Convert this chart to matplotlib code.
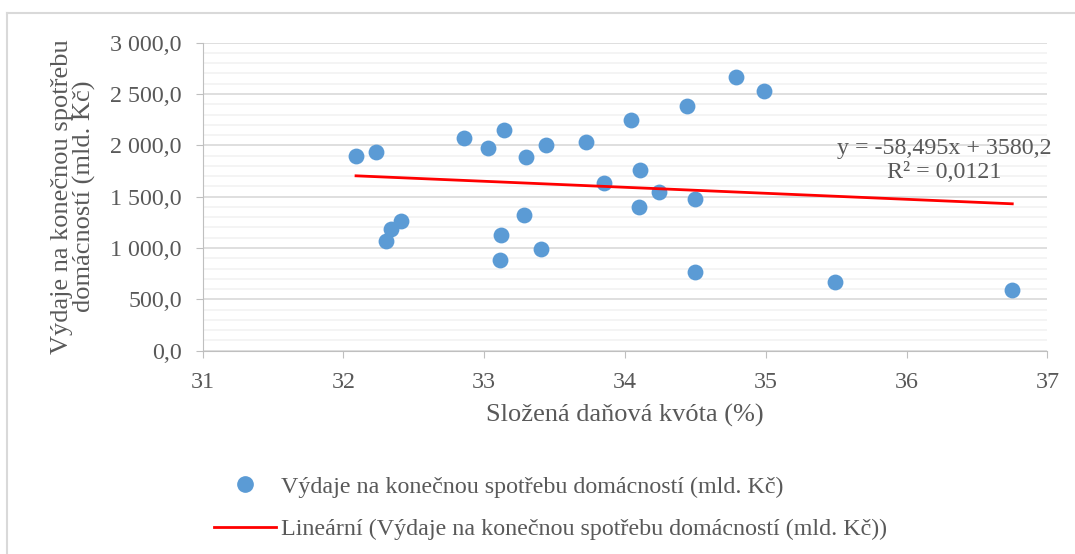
import matplotlib
matplotlib.use("Agg")
import matplotlib.pyplot as plt
from matplotlib.ticker import FuncFormatter, MultipleLocator
from matplotlib.lines import Line2D
import numpy as np

# data
dane_kvota = [32.09, 32.23, 32.30, 32.34, 32.41, 32.86, 33.03, 33.14, 33.11, 33.12,
              33.28, 33.30, 33.40, 33.44, 33.72, 33.85, 34.04, 34.11, 34.10, 34.24,
              34.44, 34.50, 34.50, 34.79, 34.99, 35.49, 36.75]
vydaje = [1896, 1932, 1066, 1185, 1266, 2075, 1974, 2153, 886, 1130,
          1322, 1891, 992, 1999, 2030, 1636, 2244, 1757, 1397, 1546,
          2385, 1480, 764, 2669, 2527, 666, 594]
slope = -58.495
intercept = 3580.2
r2 = 0.0121

serie = "Výdaje na konečnou spotřebu domácností (mld. Kč)"
gray = "#595959"
plt.rcParams['font.family'] = ['Liberation Serif', 'DejaVu Serif']
fs = 17.3

fig = plt.figure(figsize=(10.75, 5.54), dpi=100)
ax = fig.add_axes([0.1884, 0.367, 0.786, 0.556])

#body
ax.scatter(dane_kvota, vydaje, s=130, color="#5B9BD5", zorder=3, linewidths=0)
xt = np.array([min(dane_kvota), max(dane_kvota)])
ax.plot(xt, slope * xt + intercept, color="#FF0000", lw=2, zorder=4)

ax.set_xlim(31, 37)
ax.set_ylim(0, 3000)
ax.yaxis.set_major_locator(MultipleLocator(500))
ax.yaxis.set_minor_locator(MultipleLocator(100))
ax.xaxis.set_major_locator(MultipleLocator(1))

def fmt(v, pos):
    s = "{:,.1f}".format(v).replace(",", " ").replace(".", ",")
    return s
ax.yaxis.set_major_formatter(FuncFormatter(fmt))

ax.grid(axis="y", which="major", color="#d9d9d9", lw=1.2)
ax.grid(axis="y", which="minor", color="#f2f2f2", lw=1.2)
ax.set_axisbelow(True)
for s in ["top", "right"]:
    ax.spines[s].set_visible(False)
for s in ["left", "bottom"]:
    ax.spines[s].set_color("#bfbfbf")
ax.tick_params(which="major", length=5, color="#bfbfbf", labelsize=fs, labelcolor=gray)
ax.tick_params(axis="y", which="minor", length=0)
ax.tick_params(axis="y", pad=10)
ax.tick_params(axis="x", pad=10)

ax.set_xlabel("Složená daňová kvóta (%)", fontsize=19, color=gray, labelpad=8)
ax.set_ylabel("Výdaje na konečnou spotřebu\ndomácností (mld. Kč)", fontsize=19,
              color=gray, labelpad=10, linespacing=1.0)

ax.text(36.27, 1855, "y = -58,495x + 3580,2\nR² = 0,0121", ha="center", va="center",
        fontsize=fs, color=gray, linespacing=1.2)

# legenda
handles = [Line2D([], [], ls="none", marker="o", ms=11, color="#5B9BD5"),
           Line2D([], [], color="#FF0000", lw=2)]
labels = [serie, "Lineární (" + serie + ")"]
fig.legend(handles, labels, loc="upper left", bbox_to_anchor=(0.19, 0.158),
           frameon=False, fontsize=fs, handlelength=2.6, handletextpad=0.2,
           labelspacing=0.85, labelcolor=gray, borderaxespad=0)

# ramecek
fig.add_artist(Line2D([7/1075, 1], [1 - 13/554, 1 - 13/554], color="#d9d9d9", lw=1.5))
fig.add_artist(Line2D([7/1075, 7/1075], [0, 1 - 13/554], color="#d9d9d9", lw=1.5))

plt.savefig("out.png", dpi=100)
